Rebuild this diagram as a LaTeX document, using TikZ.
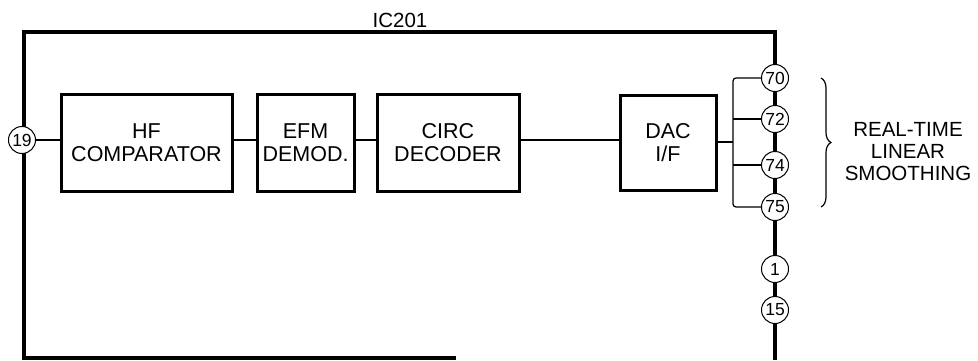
\documentclass[tikz,border=0pt]{standalone}
\usepackage{fontspec}
\setmainfont{Liberation Sans}
\usetikzlibrary{positioning,decorations.pathreplacing}

\begin{document}
\begin{tikzpicture}[x=1pt, y=1pt,
    block/.style={rectangle, draw, line width=3pt, outer sep=0pt, inner sep=0pt,
        minimum height=97pt, font=\fontsize{21.5}{23}\selectfont, align=center},
    pin/.style={circle, draw, fill=white, line width=1pt, outer sep=0pt, inner sep=0pt,
        minimum size=27pt, font=\fontsize{17.5}{18}\selectfont},
    wire/.style={line width=1.2pt},
    chip/.style={line width=4pt},
]
\useasboundingbox (0,0) rectangle (978,360);

% chip outline
\draw[chip] (456,2.5) -- (24,2.5) -- (24,328) -- (775,328) -- (775,0);
\node[font=\fontsize{20.5}{22}\selectfont] (ic) at (400,340) {IC201};

% signal path
\node[block, minimum width=171pt] (hf) at (146.5,217.5) {HF\\COMPARATOR};
\node[block, minimum width=97pt, right=25pt of hf] (efm) {EFM\\DEMOD.};
\node[block, minimum width=142pt, right=23pt of efm] (circ) {CIRC\\DECODER};
\node[block, minimum width=96pt, minimum height=95pt, right=101pt of circ] (dac) {DAC\\I/F};

% pins
\node[pin] (p19) at (22,220) {19};
\node[pin] (p70) at (775,282) {70};
\node[pin] (p72) at (775,241) {72};
\node[pin] (p74) at (775,195) {74};
\node[pin] (p75) at (775,153) {75};
\node[pin] (p1) at (775,91) {1};
\node[pin] (p15) at (775,50) {15};

% wires
\draw[wire] (p19.east) -- (p19.east -| hf.west);
\draw[wire] (hf.east |- p19) -- (p19 -| efm.west);
\draw[wire] (efm.east |- p19) -- (p19 -| circ.west);
\draw[wire] (circ.east |- p19) -- (p19 -| dac.west);

\coordinate (bus) at (733,218);
\draw[wire] (dac.east |- bus) -- (bus);
\draw[wire, rounded corners=3pt] (p70.west) -| (bus) |- (p75.west);
\draw[wire] (p72.west) -- (p72.west -| bus);
\draw[wire] (p74.west) -- (p74.west -| bus);

% smoothing
\draw[wire, decorate, decoration={brace, amplitude=10pt}] (821,282) -- (821,153);
\node[font=\fontsize{20.5}{22}\selectfont, align=center] (smooth) at (908,208)
    {REAL-TIME\\LINEAR\\SMOOTHING};
\end{tikzpicture}
\end{document}
